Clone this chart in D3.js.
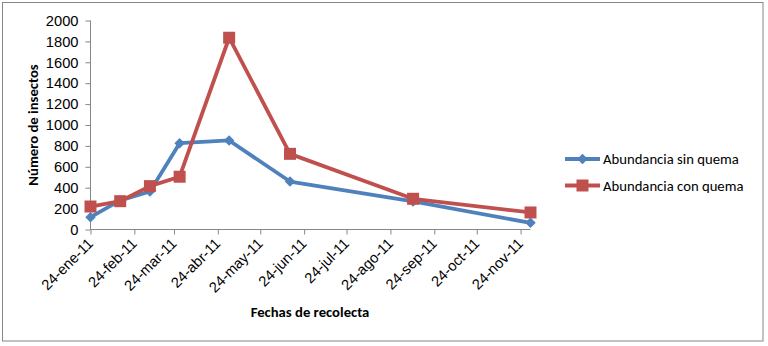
<!DOCTYPE html>
<html>
<head>
<meta charset="utf-8">
<script src="https://cdn.jsdelivr.net/npm/d3@7"></script>
<style>
  body { margin: 0; background: #fff; }
  svg { display: block; font-family: Carlito, Lato, "Open Sans", sans-serif; }
</style>
</head>
<body>
<div id="chart"></div>
<script>
// Données
const fechas = ["2011-01-24", "2011-02-14", "2011-03-07", "2011-03-28", "2011-05-02", "2011-06-14", "2011-09-09", "2011-12-01"];
const sinQuema = [118, 278, 364, 826, 852, 459, 268, 64];
const conQuema = [220, 271, 415, 505, 1835, 724, 294, 163];
const tickFechas = ["2011-01-24", "2011-02-24", "2011-03-24", "2011-04-24", "2011-05-24", "2011-06-24",
    "2011-07-24", "2011-08-24", "2011-09-24", "2011-10-24", "2011-11-24"];
const yTicks = [0, 200, 400, 600, 800, 1000, 1200, 1400, 1600, 1800, 2000];
const series = [
    { label: "Abundancia sin quema", values: sinQuema, col: "#4F81BD", marker: "diamond" },
    { label: "Abundancia con quema", values: conQuema, col: "#C0504D", marker: "square" }
];

// mois en espagnol
const locale = d3.timeFormatLocale({
    "dateTime": "%x %X", "date": "%d/%m/%Y", "time": "%H:%M:%S", "periods": ["AM", "PM"],
    "days": ["domingo", "lunes", "martes", "miércoles", "jueves", "viernes", "sábado"],
    "shortDays": ["dom", "lun", "mar", "mié", "jue", "vie", "sáb"],
    "months": ["enero", "febrero", "marzo", "abril", "mayo", "junio", "julio", "agosto", "septiembre", "octubre", "noviembre", "diciembre"],
    "shortMonths": ["ene", "feb", "mar", "abr", "may", "jun", "jul", "ago", "sep", "oct", "nov", "dic"]
});
const fmt = locale.format("%d-%b-%y");
const parse = d3.timeParse("%Y-%m-%d");

const width = 768, height = 346;
const fs = 14.7;
const svg = d3.select("#chart").append("svg")
    .attr("width", width).attr("height", height);

// cadre
svg.append("rect")
    .attr("x", 2.5).attr("y", 2.5)
    .attr("width", 760.5).attr("height", 338.5)
    .attr("fill", "#fff").attr("stroke", "#868686").attr("stroke-width", 1);

// échelles
const scaleT = d3.scaleTime()
    .domain([parse(fechas[0]), parse(fechas[fechas.length - 1])])
    .range([90.5, 530.5]);
const scaleY = d3.scaleLinear()
    .domain([0, 2000])
    .range([229.5, 20.5]);

// axe Y
svg.append("g")
    .attr("transform", "translate(90.5,0)")
    .call(d3.axisLeft(scaleY).tickValues(yTicks).tickSize(5).tickPadding(7).tickFormat(d => d))
    .call(g => g.select(".domain").attr("stroke", "#868686").attr("d", "M0," + scaleY(2000) + "V" + scaleY(0)))
    .call(g => g.selectAll(".tick line").attr("stroke", "#868686"))
    .call(g => g.selectAll("text").attr("fill", "#000").attr("font-size", fs).style("font-family", null));

// axe X
svg.append("g")
    .attr("transform", "translate(0,229.5)")
    .call(d3.axisBottom(scaleT).tickValues(tickFechas.map(parse)).tickSize(5).tickFormat(fmt))
    .call(g => g.select(".domain").attr("stroke", "#868686").attr("d", "M" + scaleT.range()[0] + ",0H" + scaleT.range()[1]))
    .call(g => g.selectAll(".tick line").attr("stroke", "#868686"))
    .call(g => g.selectAll("text")
        .attr("fill", "#000").attr("font-size", fs).style("font-family", null)
        .attr("text-anchor", "end").attr("dy", null).attr("y", 0)
        .attr("transform", "translate(3,15) rotate(-45)"));

// titres des axes
svg.append("text")
    .attr("transform", "translate(38,125) rotate(-90)")
    .attr("text-anchor", "middle")
    .attr("font-size", fs).attr("font-weight", "bold")
    .text("Número de insectos");

svg.append("text")
    .attr("x", 310).attr("y", 317)
    .attr("text-anchor", "middle")
    .attr("font-size", fs).attr("font-weight", "bold")
    .text("Fechas de recolecta");

// lignes et marqueurs
const line = d3.line()
    .x((d, i) => scaleT(parse(fechas[i])))
    .y(d => scaleY(d));

const diamond = d3.symbol().type(d3.symbolDiamond2).size(70);
const square = d3.symbol().type(d3.symbolSquare).size(144);

series.forEach(s => {
    svg.append("path")
        .attr("d", line(s.values))
        .attr("fill", "none")
        .attr("stroke", s.col)
        .attr("stroke-width", 3.8)
        .attr("stroke-linejoin", "round");
    svg.selectAll(null)
        .data(s.values)
        .join("path")
        .attr("transform", (d, i) => `translate(${scaleT(parse(fechas[i]))},${scaleY(d)})`)
        .attr("d", s.marker === "diamond" ? diamond() : square())
        .attr("fill", s.col);
});

// légende
const legend = svg.selectAll(".legend")
    .data(series)
    .join("g")
    .attr("class", "legend")
    .attr("transform", (d, i) => `translate(565, ${159 + i * 26.5})`);

legend.append("line")
    .attr("x1", 0).attr("x2", 35)
    .attr("stroke", d => d.col).attr("stroke-width", 3.8);

legend.append("path")
    .attr("transform", "translate(17.5,0)")
    .attr("d", d => d.marker === "diamond" ? diamond() : square())
    .attr("fill", d => d.col);

legend.append("text")
    .attr("x", 38).attr("y", 5)
    .attr("font-size", fs)
    .text(d => d.label);
</script>
</body>
</html>
